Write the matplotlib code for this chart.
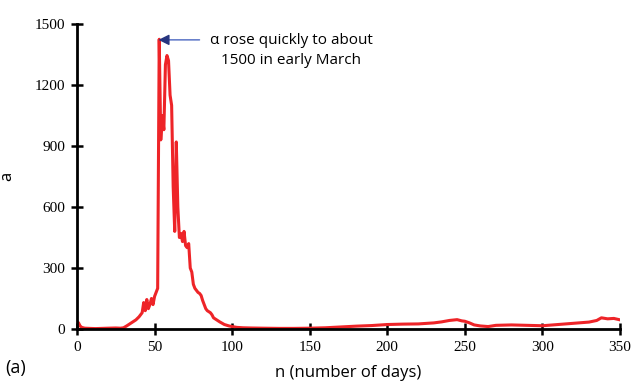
import matplotlib.pyplot as plt
import numpy as np

# days and values
days = [0, 1, 2, 3, 5, 8, 12, 16, 20, 25, 28, 30, 32, 34, 36, 38, 40, 41, 42, 43,
        44, 45, 46, 47, 48, 49, 50, 51, 52, 53, 54, 55, 56, 57, 58, 59, 60, 61, 62,
        63, 64, 65, 66, 67, 68, 69, 70, 71, 72, 73, 74, 75, 76, 77, 78, 79, 80, 81,
        82, 83, 84, 85, 86, 87, 88, 90, 92, 95, 98, 100, 103, 107, 112, 120, 130,
        140, 150, 160, 170, 180, 190, 200, 210, 220, 230, 235, 240, 245, 248, 250,
        253, 256, 260, 265, 270, 280, 290, 300, 310, 320, 330, 335, 338, 342, 346, 350]
alpha = [38, 30, 15, 8, 4, 3, 2, 3, 4, 5, 4, 6, 15, 25, 35, 45, 60, 70, 80, 130,
         90, 145, 100, 120, 150, 120, 160, 180, 200, 1425, 930, 1050, 980, 1300, 1345,
         1320, 1150, 1100, 700, 480, 920, 600, 450, 470, 430, 480, 410, 400, 420, 300,
         280, 220, 200, 190, 180, 175, 165, 140, 120, 100, 90, 85, 80, 70, 55, 45, 35,
         22, 15, 12, 8, 6, 5, 4, 3, 3, 4, 6, 10, 14, 17, 22, 24, 25, 30, 35, 42, 46,
         40, 38, 30, 20, 15, 12, 18, 20, 18, 16, 22, 28, 34, 42, 55, 50, 52, 45]

xticks = [0, 50, 100, 150, 200, 250, 300, 350]
yticks = [0, 300, 600, 900, 1200, 1500]

fig = plt.figure(figsize=(6.31, 3.83), dpi=100)
ax = fig.add_axes([0.122, 0.141, 0.8606, 0.7963])

ax.plot(days, alpha, color='#ee2428', lw=2.2)

ax.set_xlim(0, 350)
ax.set_ylim(0, 1500)
ax.set_xticks(xticks)
ax.set_yticks(yticks)
for s in ['top', 'right']:
    ax.spines[s].set_visible(False)
for s in ['left', 'bottom']:
    ax.spines[s].set_linewidth(2)
ax.tick_params(direction='inout', length=9, width=1.8, labelsize=11, pad=4)
for lab in ax.get_xticklabels() + ax.get_yticklabels():
    lab.set_family('Liberation Serif')
ax.set_ylabel('a', family='Open Sans', fontsize=12)
ax.yaxis.set_label_coords(-0.114, 0.5)
ax.set_xlabel('n (number of days)', family='Open Sans', fontsize=12, labelpad=8)
fig.text(0.008, 0.025, '(a)', family='Open Sans', fontsize=13)

# arrow: lighter shaft, dark head
ax.annotate('', xy=(55, 1422), xytext=(79, 1422),
            arrowprops=dict(arrowstyle='-', color='#4a66c0', lw=1,
                            shrinkA=0, shrinkB=0))
ax.annotate('', xy=(52.5, 1422), xytext=(58, 1422),
            arrowprops=dict(arrowstyle='-|>', color='#26347f', lw=1,
                            mutation_scale=16, shrinkA=0, shrinkB=0))
ax.text(138, 1370, 'α rose quickly to about\n1500 in early March',
        family='Open Sans', fontsize=11, ha='center', va='center', linespacing=1.45)

plt.savefig('out.png', dpi=100)
